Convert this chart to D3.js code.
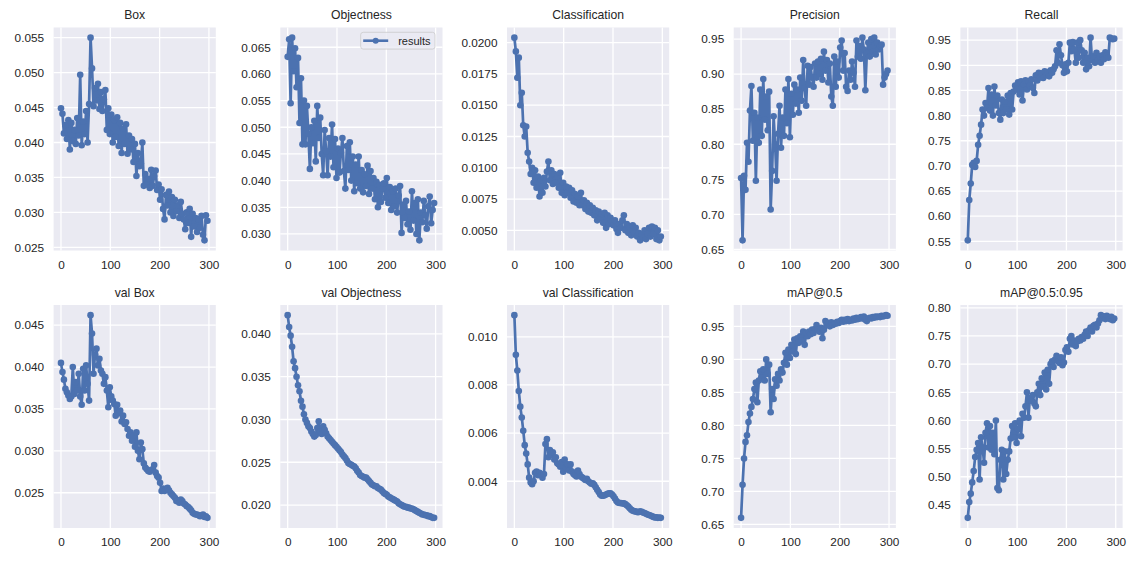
<!DOCTYPE html>
<html><head><meta charset="utf-8">
<script src="https://cdn.jsdelivr.net/npm/d3@7"></script>
<style>
html,body{margin:0;padding:0;background:#fff;}
svg{display:block;font-family:"Liberation Sans",Arial,sans-serif;}
</style></head><body>
<svg id="chart" width="1134" height="563"></svg>
<script>
// ---------- data (sampled every 3 epochs, 300 epochs total) ----------
const titles = ["Box","Objectness","Classification","Precision","Recall",
  "val Box","val Objectness","val Classification","mAP@0.5","mAP@0.5:0.95"];
const nEpochs = 300;
const epochs = d3.range(0, 300, 3);
const legendLabel = "results";
const xTickLabels = ["0","100","200","300"];

const boxLoss = [0.0449,0.0441,0.0413,0.0425,0.0405,0.0432,0.0390,0.0428,0.0402,0.0418,
0.0398,0.0435,0.0410,0.0497,0.0396,0.0430,0.0412,0.0445,0.0400,0.0455,
0.0550,0.0506,0.0452,0.0478,0.0460,0.0484,0.0448,0.0472,0.0445,0.0462,
0.0475,0.0418,0.0449,0.0412,0.0440,0.0400,0.0432,0.0408,0.0436,0.0395,
0.0428,0.0385,0.0420,0.0398,0.0426,0.0384,0.0410,0.0390,0.0405,0.0372,
0.0398,0.0352,0.0385,0.0366,0.0370,0.0400,0.0338,0.0355,0.0340,0.0348,
0.0335,0.0361,0.0338,0.0352,0.0360,0.0332,0.0340,0.0318,0.0333,0.0305,
0.0290,0.0325,0.0310,0.0330,0.0300,0.0322,0.0295,0.0318,0.0302,0.0310,
0.0292,0.0315,0.0298,0.0290,0.0276,0.0300,0.0285,0.0305,0.0265,0.0298,
0.0280,0.0292,0.0272,0.0290,0.0278,0.0295,0.0268,0.0260,0.0296,0.0288];

const objLoss = [0.0632,0.0665,0.0545,0.0668,0.0605,0.0648,0.0575,0.0630,0.0508,0.0592,
0.0468,0.0550,0.0468,0.0540,0.0488,0.0422,0.0500,0.0470,0.0512,0.0436,
0.0540,0.0480,0.0518,0.0450,0.0410,0.0495,0.0455,0.0410,0.0480,0.0445,
0.0505,0.0425,0.0478,0.0405,0.0460,0.0415,0.0452,0.0480,0.0418,0.0385,
0.0465,0.0420,0.0472,0.0400,0.0445,0.0380,0.0430,0.0395,0.0445,0.0385,
0.0420,0.0378,0.0412,0.0390,0.0428,0.0375,0.0418,0.0385,0.0405,0.0365,
0.0398,0.0350,0.0392,0.0360,0.0385,0.0395,0.0368,0.0405,0.0358,0.0388,
0.0345,0.0380,0.0352,0.0385,0.0340,0.0372,0.0390,0.0302,0.0355,0.0330,
0.0362,0.0318,0.0342,0.0308,0.0380,0.0325,0.0358,0.0300,0.0365,0.0288,
0.0340,0.0322,0.0362,0.0335,0.0310,0.0352,0.0370,0.0320,0.0345,0.0358];

const clsLoss = [0.0204,0.0193,0.0172,0.0188,0.0150,0.0160,0.0134,0.0125,0.0133,0.0112,
0.0105,0.0095,0.0100,0.0088,0.0098,0.0084,0.0093,0.0077,0.0090,0.0080,
0.0092,0.0085,0.0097,0.0105,0.0090,0.0098,0.0087,0.0095,0.0088,0.0093,
0.0084,0.0096,0.0080,0.0088,0.0078,0.0085,0.0080,0.0084,0.0076,0.0082,
0.0073,0.0079,0.0072,0.0077,0.0070,0.0080,0.0070,0.0074,0.0067,0.0072,
0.0065,0.0070,0.0064,0.0068,0.0062,0.0066,0.0058,0.0065,0.0060,0.0063,
0.0056,0.0064,0.0052,0.0062,0.0055,0.0060,0.0057,0.0054,0.0058,0.0051,
0.0048,0.0055,0.0052,0.0058,0.0062,0.0050,0.0055,0.0048,0.0052,0.0046,
0.0054,0.0048,0.0052,0.0045,0.0048,0.0042,0.0047,0.0044,0.0050,0.0043,
0.0047,0.0052,0.0045,0.0053,0.0047,0.0052,0.0043,0.0050,0.0042,0.0045];

const precision = [0.752,0.663,0.755,0.735,0.802,0.775,0.848,0.883,0.805,0.845,
0.748,0.838,0.802,0.878,0.812,0.893,0.835,0.868,0.820,0.875,
0.707,0.762,0.840,0.800,0.748,0.815,0.855,0.795,0.838,0.812,
0.878,0.830,0.893,0.810,0.872,0.842,0.885,0.858,0.878,0.845,
0.895,0.862,0.920,0.880,0.855,0.912,0.885,0.910,0.895,0.882,
0.915,0.895,0.918,0.900,0.922,0.892,0.932,0.905,0.920,0.888,
0.915,0.868,0.855,0.925,0.882,0.918,0.895,0.938,0.948,0.905,
0.930,0.882,0.876,0.905,0.892,0.918,0.902,0.882,0.948,0.925,
0.940,0.922,0.952,0.935,0.877,0.930,0.945,0.925,0.950,0.932,
0.952,0.928,0.945,0.935,0.940,0.942,0.885,0.895,0.900,0.905];

const recall = [0.552,0.632,0.665,0.702,0.706,0.698,0.710,0.742,0.760,0.782,
0.812,0.800,0.825,0.815,0.855,0.810,0.842,0.800,0.858,0.820,
0.840,0.805,0.792,0.832,0.805,0.828,0.812,0.840,0.802,0.845,
0.812,0.848,0.860,0.852,0.866,0.842,0.868,0.830,0.862,0.870,
0.852,0.868,0.860,0.872,0.855,0.845,0.880,0.870,0.885,0.876,
0.884,0.875,0.888,0.880,0.886,0.878,0.890,0.885,0.892,0.898,
0.930,0.905,0.942,0.920,0.900,0.885,0.902,0.888,0.905,0.945,
0.928,0.946,0.932,0.905,0.945,0.915,0.950,0.930,0.905,0.925,
0.892,0.915,0.898,0.955,0.910,0.918,0.905,0.925,0.912,0.918,
0.905,0.920,0.912,0.926,0.920,0.915,0.955,0.953,0.952,0.953];

const valBox = [0.0405,0.0394,0.0385,0.0374,0.0370,0.0366,0.0362,0.0365,0.0400,0.0368,
0.0382,0.0372,0.0392,0.0365,0.0355,0.0398,0.0372,0.0402,0.0380,0.0360,
0.0462,0.0440,0.0392,0.0415,0.0422,0.0402,0.0410,0.0396,0.0392,0.0380,
0.0388,0.0372,0.0352,0.0376,0.0365,0.0360,0.0356,0.0342,0.0355,0.0345,
0.0348,0.0335,0.0342,0.0332,0.0334,0.0326,0.0318,0.0322,0.0312,0.0318,
0.0305,0.0322,0.0300,0.0290,0.0310,0.0302,0.0285,0.0280,0.0278,0.0276,
0.0275,0.0277,0.0278,0.0283,0.0274,0.0270,0.0268,0.0262,0.0252,0.0255,
0.0252,0.0254,0.0256,0.0253,0.0250,0.0248,0.0246,0.0244,0.0240,0.0241,
0.0238,0.0242,0.0240,0.0237,0.0236,0.0234,0.0233,0.0231,0.0229,0.0226,
0.0225,0.0224,0.0224,0.0223,0.0222,0.0223,0.0224,0.0221,0.0222,0.0220];

const valObj = [0.0422,0.0408,0.0398,0.0385,0.0368,0.0360,0.0350,0.0340,0.0333,0.0322,
0.0315,0.0306,0.0300,0.0296,0.0292,0.0290,0.0286,0.0283,0.0280,0.0282,
0.0290,0.0298,0.0286,0.0283,0.0292,0.0288,0.0284,0.0280,0.0278,0.0276,
0.0274,0.0272,0.0270,0.0268,0.0266,0.0264,0.0262,0.0259,0.0257,0.0255,
0.0252,0.0249,0.0248,0.0247,0.0246,0.0245,0.0243,0.0240,0.0238,0.0235,
0.0234,0.0233,0.0232,0.0232,0.0230,0.0228,0.0226,0.0224,0.0223,0.0222,
0.0222,0.0220,0.0219,0.0218,0.0216,0.0214,0.0213,0.0212,0.0210,0.0209,
0.0208,0.0207,0.0206,0.0205,0.0204,0.0202,0.0201,0.0200,0.0199,0.0198,
0.0198,0.0197,0.0197,0.0196,0.0196,0.0195,0.0194,0.0193,0.0192,0.0191,
0.0190,0.0189,0.0189,0.0188,0.0188,0.0187,0.0187,0.0186,0.0185,0.0185];

const valCls = [0.01090,0.00925,0.00860,0.00775,0.00710,0.00665,0.00610,0.00550,0.00515,0.00470,
0.00415,0.00395,0.00388,0.00400,0.00435,0.00440,0.00425,0.00435,0.00425,0.00415,
0.00430,0.00555,0.00575,0.00500,0.00530,0.00510,0.00520,0.00490,0.00500,0.00475,
0.00470,0.00460,0.00480,0.00440,0.00490,0.00455,0.00470,0.00445,0.00470,0.00440,
0.00430,0.00425,0.00420,0.00445,0.00430,0.00420,0.00415,0.00410,0.00405,0.00410,
0.00400,0.00395,0.00390,0.00392,0.00385,0.00375,0.00365,0.00355,0.00345,0.00340,
0.00340,0.00342,0.00345,0.00348,0.00350,0.00350,0.00345,0.00338,0.00328,0.00318,
0.00312,0.00310,0.00310,0.00308,0.00308,0.00305,0.00300,0.00295,0.00288,0.00282,
0.00278,0.00275,0.00275,0.00272,0.00272,0.00275,0.00273,0.00270,0.00268,0.00265,
0.00262,0.00260,0.00258,0.00255,0.00252,0.00250,0.00250,0.00248,0.00249,0.00248];

const map50 = [0.660,0.710,0.750,0.775,0.785,0.805,0.818,0.828,0.840,0.855,
0.865,0.835,0.868,0.882,0.872,0.885,0.868,0.900,0.878,0.892,
0.820,0.855,0.840,0.870,0.860,0.878,0.868,0.885,0.880,0.895,
0.910,0.892,0.915,0.902,0.922,0.912,0.930,0.908,0.932,0.925,
0.935,0.928,0.942,0.922,0.940,0.935,0.942,0.938,0.945,0.940,
0.946,0.952,0.945,0.942,0.948,0.932,0.945,0.958,0.952,0.955,
0.950,0.956,0.952,0.955,0.954,0.957,0.955,0.958,0.960,0.957,
0.960,0.958,0.961,0.958,0.960,0.959,0.962,0.960,0.963,0.961,
0.962,0.964,0.962,0.965,0.960,0.958,0.962,0.963,0.962,0.964,
0.963,0.965,0.964,0.965,0.964,0.966,0.965,0.966,0.967,0.966];

const map5095 = [0.427,0.455,0.470,0.490,0.510,0.535,0.548,0.560,0.495,0.570,
0.552,0.525,0.578,0.595,0.552,0.590,0.548,0.578,0.540,0.600,
0.480,0.476,0.530,0.548,0.495,0.545,0.505,0.530,0.545,0.568,
0.590,0.570,0.595,0.560,0.585,0.600,0.572,0.612,0.605,0.625,
0.650,0.605,0.640,0.635,0.645,0.630,0.625,0.650,0.665,0.645,
0.675,0.660,0.685,0.655,0.690,0.665,0.700,0.705,0.695,0.708,
0.715,0.705,0.702,0.712,0.698,0.703,0.725,0.730,0.722,0.745,
0.750,0.735,0.742,0.732,0.740,0.745,0.742,0.748,0.745,0.752,
0.758,0.750,0.760,0.765,0.758,0.768,0.770,0.765,0.772,0.778,
0.787,0.782,0.785,0.780,0.786,0.783,0.780,0.784,0.778,0.781];

const yTickLabels = [
  ["0.025","0.030","0.035","0.040","0.045","0.050","0.055"],
  ["0.030","0.035","0.040","0.045","0.050","0.055","0.060","0.065"],
  ["0.0050","0.0075","0.0100","0.0125","0.0150","0.0175","0.0200"],
  ["0.65","0.70","0.75","0.80","0.85","0.90","0.95"],
  ["0.55","0.60","0.65","0.70","0.75","0.80","0.85","0.90","0.95"],
  ["0.025","0.030","0.035","0.040","0.045"],
  ["0.020","0.025","0.030","0.035","0.040"],
  ["0.004","0.006","0.008","0.010"],
  ["0.65","0.70","0.75","0.80","0.85","0.90","0.95"],
  ["0.45","0.50","0.55","0.60","0.65","0.70","0.75","0.80"]
];

const series = [boxLoss, objLoss, clsLoss, precision, recall, valBox, valObj, valCls, map50, map5095];

// ---------- layout ----------
const svg = d3.select("#chart");
const W = 162.2, H = 223;
const lefts = [53.6, 280.3, 507.0, 733.7, 960.4];
const tops = [27.5, 305];
const BG = "#EAEAF2", LINE = "#4C72B0", TXT = "#262626";

series.forEach((vals, i) => {
  const col = i % 5, row = Math.floor(i / 5);
  const g = svg.append("g").attr("transform", `translate(${lefts[col]},${tops[row]})`);
  const last = nEpochs - 1;
  const x = d3.scaleLinear().domain([-0.05 * last, 1.05 * last]).range([0, W]);
  const [lo, hi] = d3.extent(vals);
  const pad = (hi - lo) * 0.05;
  const y = d3.scaleLinear().domain([lo - pad, hi + pad]).range([H, 0]);
  const yt = yTickLabels[i].map(Number);

  g.append("rect").attr("width", W).attr("height", H).attr("fill", BG);
  // grid
  g.selectAll(".gx").data(xTickLabels.map(Number)).enter().append("line")
    .attr("x1", d => x(d)).attr("x2", d => x(d)).attr("y1", 0).attr("y2", H)
    .attr("stroke", "#fff").attr("stroke-width", 1.3);
  g.selectAll(".gy").data(yt).enter().append("line")
    .attr("y1", d => y(d)).attr("y2", d => y(d)).attr("x1", 0).attr("x2", W)
    .attr("stroke", "#fff").attr("stroke-width", 1.3);

  // axes
  const ax = g.append("g").attr("transform", `translate(0,${H})`)
    .call(d3.axisBottom(x).tickValues(xTickLabels.map(Number)).tickFormat((d, k) => xTickLabels[k]).tickSize(0).tickPadding(10));
  const ay = g.append("g")
    .call(d3.axisLeft(y).tickValues(yt).tickFormat((d, k) => yTickLabels[i][k]).tickSize(0).tickPadding(9.5));
  [ax, ay].forEach(a => {
    a.select(".domain").remove();
    a.selectAll("text").attr("font-size", 11.8).attr("fill", TXT)
      .attr("font-family", '"Liberation Sans", Arial, sans-serif');
  });

  // data line + markers
  const pts = vals.map((v, k) => [epochs[k], v]);
  g.append("path").datum(pts)
    .attr("d", d3.line().x(d => x(d[0])).y(d => y(d[1])))
    .attr("fill", "none").attr("stroke", LINE).attr("stroke-width", 2.7)
    .attr("stroke-linejoin", "round");
  g.selectAll(".pt").data(pts).enter().append("circle")
    .attr("cx", d => x(d[0])).attr("cy", d => y(d[1])).attr("r", 3.3).attr("fill", LINE);

  // title
  g.append("text").attr("x", W / 2).attr("y", -8.5).attr("text-anchor", "middle")
    .attr("font-size", 12.2).attr("fill", TXT).text(titles[i]);

  // legend on Objectness panel
  if (i === 1) {
    const lg = g.append("g").attr("transform", "translate(80.4,4.8)");
    lg.append("rect").attr("width", 74.3).attr("height", 16.8).attr("rx", 2.5)
      .attr("fill", BG).attr("fill-opacity", 0.8).attr("stroke", "#cccccc").attr("stroke-width", 0.8);
    lg.append("line").attr("x1", 2.5).attr("x2", 27.5).attr("y1", 8.4).attr("y2", 8.4)
      .attr("stroke", LINE).attr("stroke-width", 2.6);
    lg.append("circle").attr("cx", 15).attr("cy", 8.4).attr("r", 3).attr("fill", LINE);
    lg.append("text").attr("x", 37.5).attr("y", 12.3).attr("font-size", 11)
      .attr("fill", TXT).text(legendLabel);
  }
});
</script>
</body></html>
